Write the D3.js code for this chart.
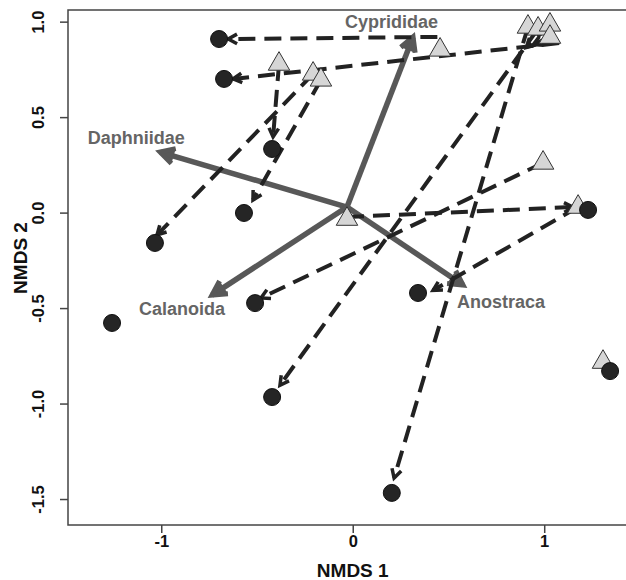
<!DOCTYPE html>
<html>
<head>
<meta charset="utf-8">
<script src="https://cdn.jsdelivr.net/npm/d3@7/dist/d3.min.js"></script>
<style>
  body { margin: 0; background: #fff; }
  svg text { font-family: "Liberation Sans", Arial, Helvetica, sans-serif; font-weight: bold; }
</style>
</head>
<body>
<svg id="chart"></svg>
<script>
// ----------------------------------------- Data -----------------------------------------

// first survey (grey triangles)
var triX = [-0.385, -0.207, -0.166, 0.456, -0.030, 0.915, 0.968, 1.030, 1.030, 0.994, 1.177, 1.307];
var triY = [0.778, 0.726, 0.695, 0.852, -0.034, 0.972, 0.962, 0.983, 0.919, 0.260, 0.029, -0.783];

// second survey (black circles)
var circX = [-0.698, -0.672, -0.421, -0.568, -1.033, -1.257, -0.510, -0.421, 0.341, 0.204, 1.229, 1.344];
var circY = [0.909, 0.700, 0.333, -0.002, -0.159, -0.578, -0.474, -0.966, -0.421, -1.468, 0.014, -0.830];

// dashed shift arrows (start -> arrow tip)
var shiftX0 = [0.442, 1.078, -0.385, -0.207, -0.166, -0.030, 1.177, 0.994, 0.915, 0.968, 1.030, 1.030];
var shiftY0 = [0.920, 0.888, 0.778, 0.726, 0.695, -0.023, 0.029, 0.260, 0.972, 0.962, 0.983, 0.919];
var shiftX1 = [-0.650, -0.625, -0.416, -1.022, -0.521, 1.150, 0.419, -0.479, 0.216, -0.380, 0.907, 0.943];
var shiftY1 = [0.909, 0.700, 0.396, -0.117, 0.066, 0.029, -0.407, -0.447, -1.390, -0.904, 0.865, 0.880];

// taxa vectors
var taxa = ["Cyprididae", "Daphniidae", "Calanoida", "Anostraca"];
var vecX = [0.315, -1.006, -0.735, 0.576];
var vecY = [0.920, 0.317, -0.432, -0.379];
var vecOrigin = [-0.030, 0.029];
var taxaLabX = [0.202, -1.131, -0.891, 0.774];
var taxaLabY = [0.967, 0.359, -0.537, -0.500];

// ticks
var xTicks = [-1, 0, 1];
var yTicks = [-1.5, -1.0, -0.5, 0.0, 0.5, 1.0];

// ----------------------------------------- Setup -----------------------------------------

var width = 626;
var height = 580;
var padL = 68, padR = 630, padT = 10, padB = 525;

var svg = d3.select('#chart')
            .attr('width', width)
            .attr('height', height);

var xScale = d3.scaleLinear()
               .domain([-1.487, 1.448])
               .range([padL, padR]);

var yScale = d3.scaleLinear()
               .domain([-1.636, 1.061])
               .range([padB, padT]);

var frameCol = '#444';
var vecCol = '#585858';
var shiftCol = '#222';

// ----------------------------------------- Axes -----------------------------------------

var xAxis = svg.append('g')
    .attr('transform', `translate(0, ${padB})`)
    .call(d3.axisBottom(xScale)
            .tickValues(xTicks)
            .tickFormat(d => String(d))
            .tickSize(8)
            .tickSizeOuter(0));

xAxis.select('.domain').remove();
xAxis.selectAll('line').attr('stroke', frameCol).attr('stroke-width', 1.5);
xAxis.selectAll('text')
    .attr('y', 10)
    .attr('font-size', 16.5)
    .attr('fill', '#111');
xAxis.attr('font-family', null).attr('font-size', null);

var yAxis = svg.append('g')
    .attr('transform', `translate(${padL}, 0)`)
    .call(d3.axisLeft(yScale)
            .tickValues(yTicks)
            .tickFormat(d => d.toFixed(1))
            .tickSize(8)
            .tickSizeOuter(0));

yAxis.select('.domain').remove();
yAxis.selectAll('line').attr('stroke', frameCol).attr('stroke-width', 1.5);
yAxis.selectAll('text')
    .attr('transform', 'rotate(-90)')
    .attr('x', 0)
    .attr('y', -24)
    .attr('dy', 0)
    .attr('text-anchor', 'middle')
    .attr('font-size', 16.5)
    .attr('fill', '#111');
yAxis.attr('font-family', null).attr('font-size', null);

// plot box
svg.append('rect')
    .attr('x', padL)
    .attr('y', padT)
    .attr('width', padR - padL)
    .attr('height', padB - padT)
    .attr('fill', 'none')
    .attr('stroke', frameCol)
    .attr('stroke-width', 1.5);

// axis titles
svg.append('text')
    .text('NMDS 1')
    .attr('x', xScale(0))
    .attr('y', 577)
    .attr('text-anchor', 'middle')
    .attr('font-size', 19)
    .attr('fill', '#111');

svg.append('text')
    .text('NMDS 2')
    .attr('transform', 'rotate(-90)')
    .attr('x', -258)
    .attr('y', 27)
    .attr('text-anchor', 'middle')
    .attr('font-size', 19)
    .attr('fill', '#111');

// ----------------------------------------- Arrow helper -----------------------------------------

function headPath(x0, y0, x1, y1, len, ang) {
  var a = Math.atan2(y1 - y0, x1 - x0);
  var p1 = [x1 - len * Math.cos(a - ang), y1 - len * Math.sin(a - ang)];
  var p2 = [x1 - len * Math.cos(a + ang), y1 - len * Math.sin(a + ang)];
  return `M${p1[0]},${p1[1]}L${x1},${y1}L${p2[0]},${p2[1]}`;
}

// ----------------------------------------- Taxa vectors -----------------------------------------

var vecData = taxa.map((t, i) => ({ name: t, x: vecX[i], y: vecY[i], lx: taxaLabX[i], ly: taxaLabY[i] }));

var vg = svg.append('g');

vg.selectAll('line')
  .data(vecData)
  .enter()
  .append('line')
    .attr('x1', xScale(vecOrigin[0]))
    .attr('y1', yScale(vecOrigin[1]))
    .attr('x2', d => xScale(d.x))
    .attr('y2', d => yScale(d.y))
    .attr('stroke', vecCol)
    .attr('stroke-width', 5.5);

vg.selectAll('path')
  .data(vecData)
  .enter()
  .append('path')
    .attr('d', d => headPath(xScale(vecOrigin[0]), yScale(vecOrigin[1]), xScale(d.x), yScale(d.y), 16, 0.5))
    .attr('fill', vecCol)
    .attr('stroke', vecCol)
    .attr('stroke-width', 5)
    .attr('stroke-linejoin', 'miter');

vg.selectAll('text')
  .data(vecData)
  .enter()
  .append('text')
    .text(d => d.name)
    .attr('x', d => xScale(d.lx))
    .attr('y', d => yScale(d.ly))
    .attr('text-anchor', 'middle')
    .attr('font-size', 18)
    .attr('fill', '#656565');

// ----------------------------------------- Shift arrows -----------------------------------------

var shifts = shiftX0.map((v, i) => ({ x0: v, y0: shiftY0[i], x1: shiftX1[i], y1: shiftY1[i] }));

var sg = svg.append('g');

sg.selectAll('line')
  .data(shifts)
  .enter()
  .append('line')
    .attr('x1', d => xScale(d.x0))
    .attr('y1', d => yScale(d.y0))
    .attr('x2', d => xScale(d.x1))
    .attr('y2', d => yScale(d.y1))
    .attr('stroke', shiftCol)
    .attr('stroke-width', 4)
    .attr('stroke-dasharray', '17 9');

sg.selectAll('path')
  .data(shifts)
  .enter()
  .append('path')
    .attr('d', d => headPath(xScale(d.x0), yScale(d.y0), xScale(d.x1), yScale(d.y1), 10, 0.5))
    .attr('fill', 'none')
    .attr('stroke', shiftCol)
    .attr('stroke-width', 3.5);

// ----------------------------------------- Points -----------------------------------------

var tri = d3.symbol().type(d3.symbolTriangle).size(200);

svg.append('g')
  .selectAll('path')
  .data(triX.map((v, i) => ({ x: v, y: triY[i] })))
  .enter()
  .append('path')
    .attr('d', tri)
    .attr('transform', d => `translate(${xScale(d.x)}, ${yScale(d.y)})`)
    .attr('fill', '#d6d6d6')
    .attr('stroke', '#333')
    .attr('stroke-width', 1);

svg.append('g')
  .selectAll('circle')
  .data(circX.map((v, i) => ({ x: v, y: circY[i] })))
  .enter()
  .append('circle')
    .attr('cx', d => xScale(d.x))
    .attr('cy', d => yScale(d.y))
    .attr('r', 8.5)
    .attr('fill', '#252525')
    .attr('stroke', '#111')
    .attr('stroke-width', 1);
</script>
</body>
</html>
